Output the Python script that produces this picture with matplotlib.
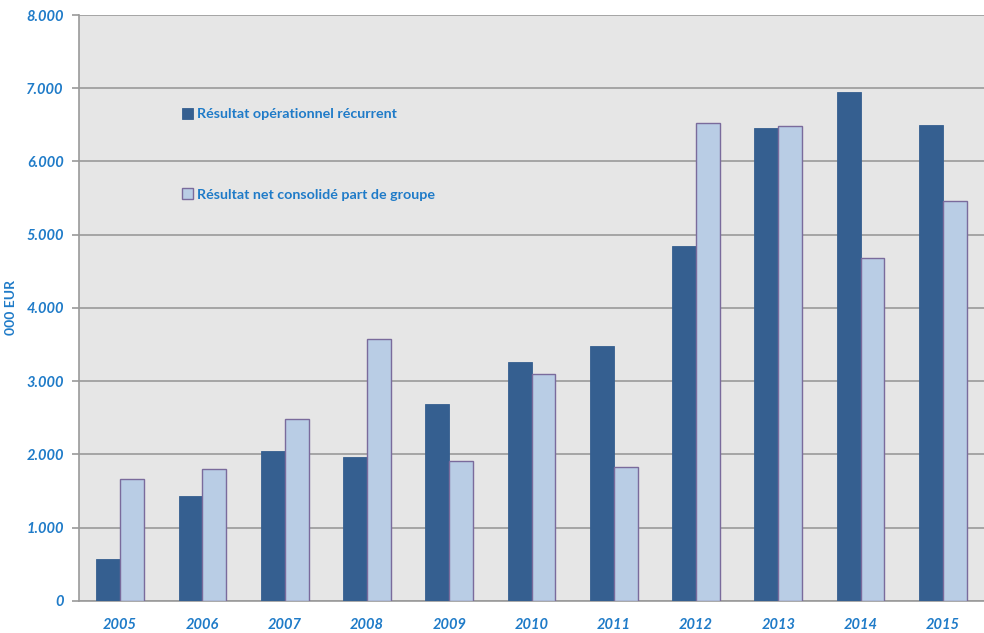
"""Résultat opérationnel récurrent vs résultat net consolidé, 2005-2015."""

import matplotlib

matplotlib.use("Agg")
import matplotlib.pyplot as plt  # noqa: E402
import numpy as np  # noqa: E402
from matplotlib.ticker import FuncFormatter  # noqa: E402

# --- Data (000 EUR) ---------------------------------------------------

YEARS = ["2005", "2006", "2007", "2008", "2009", "2010",
         "2011", "2012", "2013", "2014", "2015"]
RESULTAT_OPERATIONNEL = [573, 1433, 2048, 1966, 2689, 3263,
                         3481, 4846, 6457, 6949, 6498]
RESULTAT_NET = [1666, 1802, 2485, 3577, 1911, 3099,
                1829, 6526, 6485, 4683, 5461]

LABEL_OPER = "Résultat opérationnel récurrent"
LABEL_NET = "Résultat net consolidé part de groupe"

# --- Style --------------------------------------------------------------

DARK = "#355f90"
LIGHT = "#b9cde5"
LIGHT_EDGE = "#7a6b9c"
BG = "#e6e6e6"
GRID = "#9a9a9a"
BLUE_TXT = "#1f7bc8"

plt.rcParams["font.family"] = ["Lato", "DejaVu Sans"]

fig = plt.figure(figsize=(9.84, 6.33), dpi=100)
ax = fig.add_axes([0.0803, 0.0506, 0.9197, 0.9257])
ax.set_facecolor(BG)

x = np.arange(len(YEARS))
w = 0.29
ax.bar(x - w / 2, RESULTAT_OPERATIONNEL, width=w, color=DARK,
       edgecolor=DARK, linewidth=0.6, label=LABEL_OPER, zorder=3)
ax.bar(x + w / 2, RESULTAT_NET, width=w, color=LIGHT,
       edgecolor=LIGHT_EDGE, linewidth=1.0, label=LABEL_NET, zorder=3)

ax.set_xlim(-0.5, len(YEARS) - 0.5)
ax.set_ylim(0, 8000)
ax.set_yticks(np.arange(0, 8001, 1000))
ax.yaxis.set_major_formatter(
    FuncFormatter(lambda v, _: "0" if v == 0 else f"{int(v):,}".replace(",", "."))
)
ax.set_xticks(x)
ax.set_xticklabels(YEARS)

ax.grid(axis="y", color=GRID, linewidth=1.2, zorder=1)
ax.set_axisbelow(True)

for side in ("top", "right"):
    ax.spines[side].set_visible(False)
ax.spines["left"].set_color(GRID)
ax.spines["left"].set_linewidth(1.2)
ax.spines["bottom"].set_color(GRID)
ax.spines["bottom"].set_linewidth(1.2)

ax.tick_params(axis="y", length=5, width=1.2, color=GRID, pad=6,
               labelsize=10.5, labelcolor=BLUE_TXT)
ax.tick_params(axis="x", length=0, pad=12, labelsize=10.5,
               labelcolor=BLUE_TXT)
for lbl in ax.get_xticklabels() + ax.get_yticklabels():
    lbl.set_fontweight("bold")
    lbl.set_fontstyle("italic")

ax.set_ylabel("000 EUR", color=BLUE_TXT, fontsize=10, fontweight="bold")
ax.yaxis.set_label_coords(-0.068, 0.5)

leg = ax.legend(loc="upper left", bbox_to_anchor=(0.10, 0.863), frameon=False,
                labelspacing=4.75, handlelength=0.75, handleheight=0.75,
                handletextpad=0.3, fontsize=10.3)
for t in leg.get_texts():
    t.set_color(BLUE_TXT)
    t.set_fontweight("bold")

fig.savefig("out.png", dpi=100)
plt.close(fig)
